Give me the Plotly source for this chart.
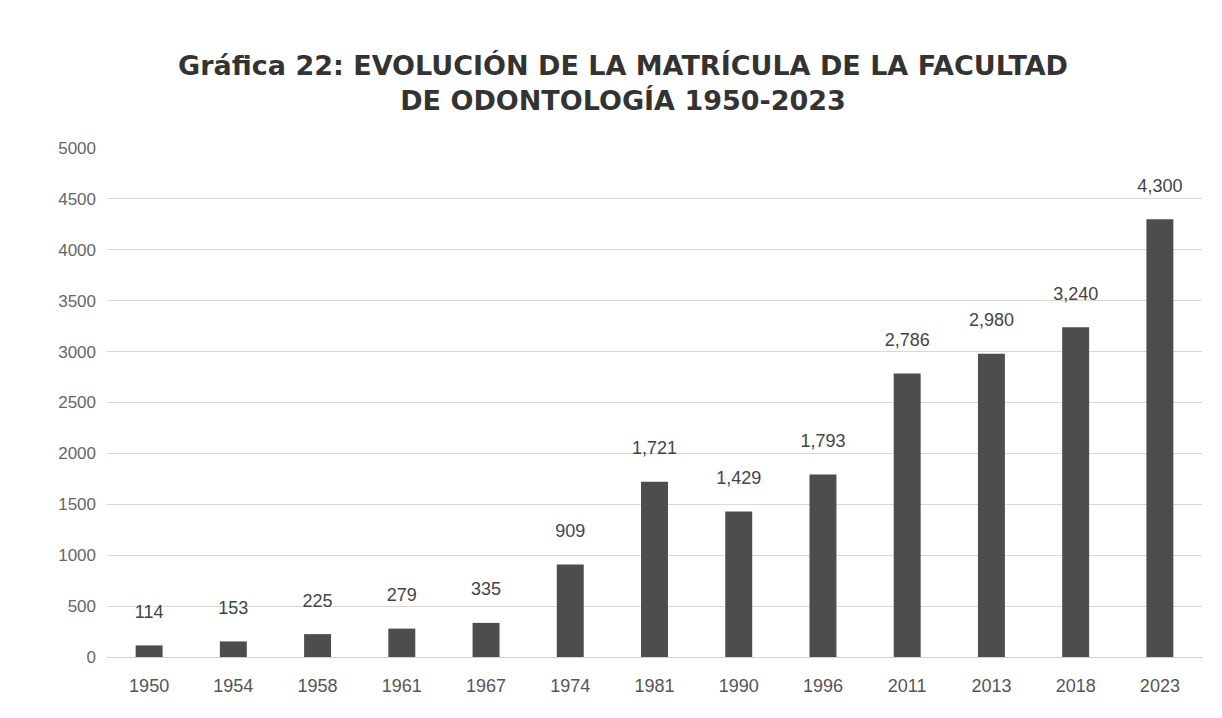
import plotly.graph_objects as go

years = ["1950", "1954", "1958", "1961", "1967", "1974", "1981",
         "1990", "1996", "2011", "2013", "2018", "2023"]
matricula = [114, 153, 225, 279, 335, 909, 1721, 1429, 1793, 2786, 2980, 3240, 4300]

title_text = ("Gráfica 22: EVOLUCIÓN DE LA MATRÍCULA DE LA FACULTAD<br>"
              "DE ODONTOLOGÍA 1950-2023")

fig = go.Figure()

fig.add_trace(go.Bar(
    x=years,
    y=matricula,
    marker=dict(color="#4d4d4d", line=dict(width=0)),
    # blank second line lifts the label off the bar top like in the original
    texttemplate="%{y:,}<br><span style='font-size:6px'> </span>",
    textposition="outside",
    constraintext="none",
    textfont=dict(family="Liberation Sans, Arial", size=18, color="#444444"),
    cliponaxis=False,
))

fig.update_layout(
    title=dict(text=title_text, x=0.51, xanchor="center", y=0.905, yanchor="top",
               font=dict(family="DejaVu Sans", size=27, color="#333333", weight="bold")),
    width=1206,
    height=702,
    margin=dict(l=99, r=12, t=140, b=53),
    paper_bgcolor="white",
    plot_bgcolor="white",
    bargap=0.68,
    showlegend=False,
    uniformtext=dict(minsize=18, mode="show"),
    font=dict(family="Liberation Sans, Arial", size=17, color="#555555"),
)

fig.update_xaxes(type="category", showline=True, linecolor="#d0d0d0", linewidth=1,
                 ticks="", ticklabelstandoff=12, tickfont=dict(size=18, color="#555555"))
fig.update_yaxes(range=[0, 5000], dtick=500, tickformat="d", showgrid=True,
                 gridcolor="#d9d9d9", zeroline=False, ticks="", ticklabelstandoff=10,
                 tickfont=dict(size=17, color="#666666"))

fig.write_html("out.html")
